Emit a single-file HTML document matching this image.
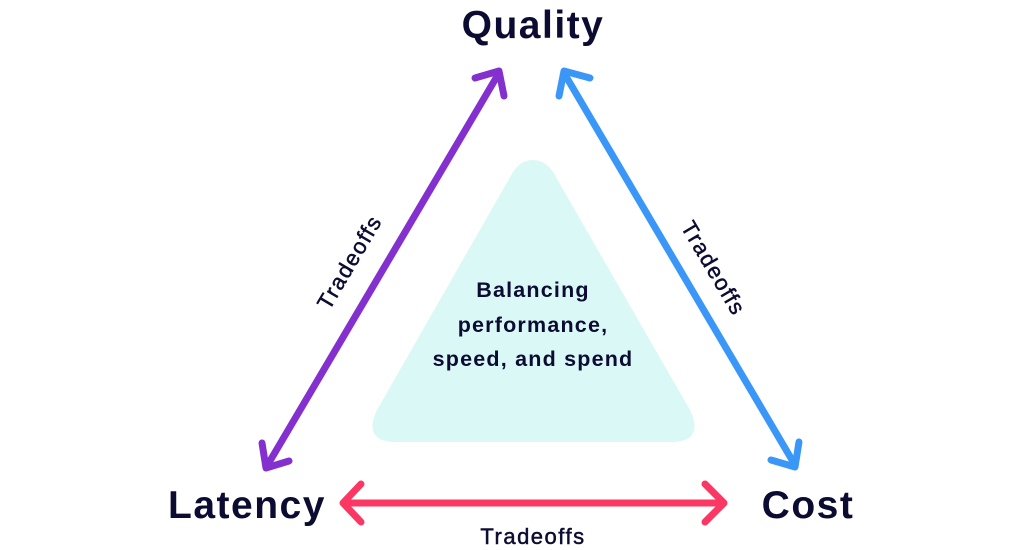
<!DOCTYPE html>
<html><head><meta charset="utf-8"><style>
html,body{margin:0;padding:0;background:#fff;}
svg{display:block;}
text{font-family:"Liberation Sans",sans-serif;fill:#0c0c33;}
</style></head><body>
<svg width="1024" height="550" viewBox="0 0 1024 550">
<path d="M533 160 Q545 160 553 172 L690 410 Q705 442 670 442 L397 442 Q362 442 377 410 L513 172 Q521 160 533 160 Z" fill="#d9f8f6"/>
<g fill="none" stroke-linecap="round" stroke-linejoin="round" stroke-width="7">
<g stroke="#8430cf"><line x1="499" y1="73" x2="267" y2="466"/><polyline points="475,78 499,71 504,96"/><polyline points="262,443 266,468 289,461"/></g>
<g stroke="#3a97f7"><line x1="564" y1="73" x2="795" y2="465"/><polyline points="590,78 564,71 559,96"/><polyline points="771,460 795,467 799,442"/></g>
<g stroke="#fb3764"><line x1="344" y1="503" x2="723" y2="503"/><polyline points="361,484 343,503 361,522"/><polyline points="705,484 724,503 705,522"/></g>
</g>
<text x="533" y="38" font-size="39" font-weight="bold" text-anchor="middle" letter-spacing="1.5">Quality</text>
<text x="247" y="518" font-size="39" font-weight="bold" text-anchor="middle" letter-spacing="1.5">Latency</text>
<text x="808" y="518" font-size="39" font-weight="bold" text-anchor="middle" letter-spacing="1.5">Cost</text>
<g font-size="22" text-anchor="middle" letter-spacing="1.5" style="stroke:#0c0c33;stroke-width:0.5">
<text x="533" y="544">Tradeoffs</text>
<text transform="translate(356,266) rotate(-59.4)">Tradeoffs</text>
<text transform="translate(707,272) rotate(59.4)">Tradeoffs</text>
</g>
<g font-size="21.5" font-weight="bold" text-anchor="middle" letter-spacing="1.2">
<text x="533" y="297">Balancing</text>
<text x="533" y="332">performance,</text>
<text x="533" y="366">speed, and spend</text>
</g>
</svg>
</body></html>
